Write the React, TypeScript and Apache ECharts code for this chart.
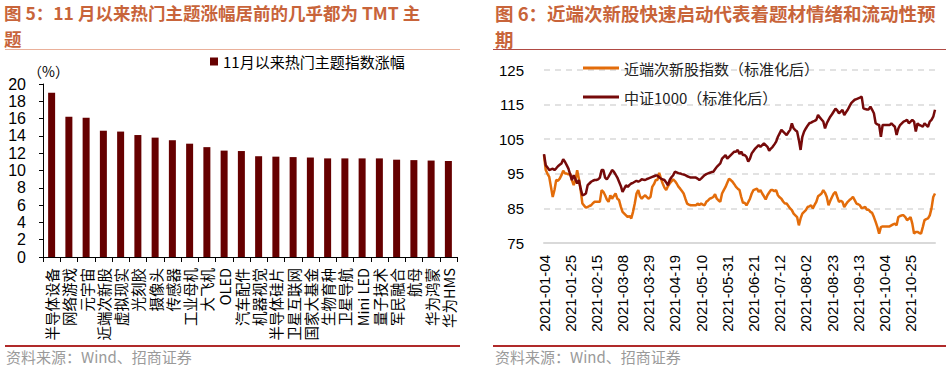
import React, { useEffect, useRef } from "react";
import * as echarts from "echarts";

const themeNames = [
  "半导体设备", "网络游戏", "元宇宙", "近端次新股", "虚拟现实", "光刻胶",
  "摄像头", "传感器", "工业母机", "大飞机", "OLED", "汽车配件",
  "机器视觉", "半导体硅片", "卫星互联网", "国家大基金", "生物育种", "卫星导航",
  "Mini LED", "量子技术", "军民融合", "航母", "华为鸿蒙", "华为HMS",
];
const themeGains = [
  19.0, 16.2, 16.1, 14.6, 14.5, 14.1, 13.8, 13.5, 13.1, 12.7, 12.3, 12.25,
  11.65, 11.6, 11.55, 11.5, 11.4, 11.4, 11.4, 11.4, 11.25, 11.2, 11.15, 11.1,
];

const startDate = "2021-01-04";
const dayCount = 225;

const subNewIndex = [
  100.4, 96.1, 95.0, 94.1, 91.2, 88.3, 90.3, 93.2, 93.0, 93.6,
  94.6, 95.9, 95.1, 95.1, 94.8, 95.1, 93.2, 91.7, 93.2, 96.0,
  93.5, 90.3, 86.4, 85.8, 85.2, 85.4, 85.7, 85.9, 86.5, 86.9,
  86.9, 86.9, 86.9, 90.3, 89.8, 88.8, 87.6, 86.9, 88.8, 87.8,
  88.6, 89.3, 87.8, 87.4, 85.5, 84.0, 83.5, 83.0, 82.5, 82.8,
  82.1, 84.0, 86.4, 89.3, 90.3, 88.5, 87.8, 88.4, 88.8, 88.2,
  87.8, 88.3, 91.2, 92.0, 93.2, 93.2, 95.3, 93.6, 92.2, 91.0,
  90.3, 91.4, 92.2, 92.8, 93.4, 92.9, 92.2, 91.3, 90.7, 90.0,
  89.3, 87.8, 86.4, 86.1, 85.9, 85.9, 85.9, 85.9, 86.4, 86.0,
  86.4, 86.1, 85.9, 86.9, 87.3, 87.8, 88.0, 88.3, 89.1, 87.8,
  87.3, 86.9, 89.3, 90.3, 91.2, 92.4, 93.6, 93.2, 92.7, 92.0,
  91.2, 90.7, 90.3, 88.3, 86.6, 86.6, 85.9, 86.8, 87.8, 89.3,
  90.3, 90.5, 90.7, 89.8, 90.3, 89.3, 88.5, 87.6, 88.8, 89.6,
  90.3, 90.3, 90.0, 90.3, 88.8, 88.2, 87.8, 87.0, 86.4, 86.4,
  85.7, 85.0, 84.5, 83.5, 83.0, 82.5, 80.1, 82.1, 83.5, 84.0,
  84.5, 85.4, 85.6, 85.9, 85.0, 86.0, 86.9, 88.5, 88.9, 89.3,
  90.3, 89.5, 88.3, 85.9, 87.2, 88.3, 89.3, 89.8, 88.3, 86.9,
  87.2, 86.9, 85.4, 86.2, 86.9, 87.4, 87.8, 88.3, 87.4, 86.4,
  86.2, 85.9, 85.0, 85.2, 85.4, 84.6, 84.6, 84.0, 83.7, 82.5,
  81.1, 79.6, 77.7, 79.6, 79.8, 79.8, 79.8, 79.8, 79.8, 80.1,
  80.4, 80.6, 80.1, 82.5, 82.8, 83.0, 83.0, 82.5, 81.6, 82.0,
  82.5, 80.6, 77.7, 78.2, 78.2, 77.9, 77.7, 79.6, 81.6, 81.9,
  82.1, 83.0, 85.0, 88.3, 89.3,
];

const csi1000 = [
  100.7, 97.5, 96.8, 96.1, 96.3, 96.5, 96.1, 96.6, 97.2, 97.6,
  98.0, 99.2, 98.5, 97.5, 96.5, 94.8, 93.2, 94.6, 93.4, 92.2,
  93.2, 90.7, 88.8, 89.0, 89.3, 91.7, 92.2, 92.7, 93.0, 93.2,
  93.2, 93.4, 93.9, 96.1, 96.1, 93.9, 93.4, 94.2, 95.1, 96.1,
  95.6, 94.8, 93.9, 92.7, 91.5, 89.8, 90.7, 91.7, 91.2, 91.8,
  92.2, 92.4, 92.7, 93.0, 92.7, 93.0, 93.4, 93.3, 93.2, 93.5,
  93.7, 93.9, 94.1, 94.3, 94.5, 94.5, 94.0, 93.6, 93.4, 93.2,
  92.5, 91.7, 93.2, 94.0, 94.6, 95.6, 95.4, 95.2, 95.1, 94.9,
  94.8, 94.6, 94.3, 94.1, 93.9, 93.9, 93.9, 93.9, 93.6, 93.2,
  93.6, 94.1, 94.6, 94.9, 95.1, 95.3, 95.5, 95.6, 96.3, 97.0,
  97.5, 98.0, 99.4, 99.9, 100.4, 99.4, 99.9, 100.4, 100.9, 101.4,
  101.4, 101.9, 100.7, 101.4, 100.4, 100.4, 99.9, 98.5, 99.4, 100.9,
  101.6, 102.3, 102.8, 103.3, 102.8, 103.3, 103.8, 103.3, 102.8, 101.7,
  102.3, 102.8, 103.5, 104.3, 105.7, 106.7, 107.7, 107.2, 106.7, 106.2,
  107.0, 107.7, 109.6, 108.1, 107.6, 107.2, 104.8, 101.9, 105.7, 107.2,
  108.1, 108.9, 109.6, 109.8, 110.1, 110.3, 110.6, 112.0, 111.3, 110.7,
  110.1, 108.1, 109.6, 110.6, 111.5, 112.2, 113.0, 113.8, 113.3, 112.5,
  113.0, 113.5, 112.0, 112.8, 113.5, 114.5, 115.4, 115.9, 116.4, 116.6,
  116.8, 117.0, 117.3, 113.9, 113.7, 113.6, 113.6, 114.4, 113.5, 112.5,
  109.6, 109.3, 109.1, 105.7, 109.1, 109.1, 109.1, 109.1, 109.1, 109.6,
  109.1, 108.6, 106.2, 108.1, 109.1, 109.6, 110.1, 110.3, 110.6, 109.6,
  110.1, 110.6, 110.1, 107.2, 109.6, 109.1, 108.9, 108.6, 109.6, 109.1,
  108.6, 110.1, 110.6, 111.5, 113.5,
];

const barLegend = "11月以来热门主题指数涨幅";
const lineLegend = ["近端次新股指数（标准化后）", "中证1000（标准化后）"];
const leftTitle = ["图 5：11 月以来热门主题涨幅居前的几乎都为 TMT 主", "题"];
const rightTitle = ["图 6：近端次新股快速启动代表着题材情绪和流动性预", "期"];
const sourceText = "资料来源：Wind、招商证券";

function weekdays(start: string, n: number): string[] {
  const out: string[] = [];
  const d = new Date(start + "T00:00:00Z");
  while (out.length < n) {
    const wd = d.getUTCDay();
    if (wd !== 0 && wd !== 6) out.push(d.toISOString().slice(0, 10));
    d.setUTCDate(d.getUTCDate() + 1);
  }
  return out;
}

const LATIN = "'Liberation Sans', Arial, 'Noto Sans CJK SC', sans-serif";
const CJK = "'Noto Sans CJK SC', 'Liberation Sans', sans-serif";
const TITLE_COLOR = "#C8643A";

export default function App() {
  const ref = useRef<HTMLDivElement>(null);
  useEffect(() => {
    if (!ref.current) return;
    const chart = echarts.init(ref.current, null, { renderer: "svg" });
    const dates = weekdays(startDate, dayCount);
    const titleStyle = (text: string, size: number) => ({
      text,
      fill: TITLE_COLOR,
      font: `bold ${size}px ${CJK}`,
    });
    chart.setOption({
      animation: false,
      backgroundColor: "#ffffff",
      grid: [
        { left: 43, top: 84, width: 414, height: 173 },
        { left: 544, top: 70, width: 391, height: 173 },
      ],
      legend: [
        {
          data: [barLegend],
          left: 205,
          top: 49,
          icon: "rect",
          itemWidth: 8,
          itemHeight: 8,
          itemGap: 4,
          textStyle: { fontSize: 15, color: "#000", fontFamily: CJK },
        },
        {
          data: lineLegend,
          orient: "vertical",
          left: 578,
          top: 54,
          icon: "rect",
          itemWidth: 36,
          itemHeight: 3,
          itemGap: 11,
          textStyle: { fontSize: 15, color: "#222", fontFamily: CJK, lineHeight: 18 },
        },
      ],
      xAxis: [
        {
          type: "category",
          gridIndex: 0,
          data: themeNames,
          axisLine: { lineStyle: { color: "#000", width: 1 } },
          axisTick: { show: true, length: 5, lineStyle: { color: "#000" } },
          axisLabel: {
            rotate: 90,
            interval: 0,
            fontSize: 14.5,
            color: "#000",
            margin: 11,
            fontFamily: CJK,
          },
        },
        {
          type: "category",
          gridIndex: 1,
          data: dates,
          boundaryGap: false,
          axisLine: { lineStyle: { color: "#D9D9D9", width: 2 } },
          axisTick: { show: false },
          axisLabel: {
            rotate: 90,
            interval: 14,
            fontSize: 15,
            color: "#000",
            margin: 12,
            fontFamily: LATIN,
          },
        },
      ],
      yAxis: [
        {
          type: "value",
          gridIndex: 0,
          min: 0,
          max: 20,
          interval: 2,
          axisLine: { show: true, lineStyle: { color: "#000" } },
          axisTick: { show: true, length: 4, lineStyle: { color: "#000" } },
          splitLine: { show: false },
          axisLabel: { fontSize: 16, color: "#000", margin: 17, fontFamily: LATIN },
        },
        {
          type: "value",
          gridIndex: 1,
          min: 75,
          max: 125,
          interval: 10,
          axisLine: { show: false },
          axisTick: { show: false },
          splitLine: {
            show: true,
            lineStyle: { color: "#D9D9D9", type: [6, 5], width: 1.5 },
          },
          axisLabel: { fontSize: 15, color: "#000", margin: 20, fontFamily: LATIN },
        },
      ],
      series: [
        {
          name: barLegend,
          type: "bar",
          xAxisIndex: 0,
          yAxisIndex: 0,
          data: themeGains,
          barWidth: 7,
          itemStyle: { color: "#660000" },
        },
        {
          name: lineLegend[0],
          type: "line",
          xAxisIndex: 1,
          yAxisIndex: 1,
          data: subNewIndex,
          symbol: "none",
          lineStyle: { color: "#E36C0A", width: 2.5 },
          itemStyle: { color: "#E36C0A" },
        },
        {
          name: lineLegend[1],
          type: "line",
          xAxisIndex: 1,
          yAxisIndex: 1,
          data: csi1000,
          symbol: "none",
          lineStyle: { color: "#760A0A", width: 2.5 },
          itemStyle: { color: "#760A0A" },
        },
      ],
      graphic: [
        { type: "text", left: 4, top: 4, style: titleStyle(leftTitle[0], 17.5) },
        { type: "text", left: 4, top: 30, style: titleStyle(leftTitle[1], 17.5) },
        { type: "text", left: 495, top: 4, style: titleStyle(rightTitle[0], 18.5) },
        { type: "text", left: 495, top: 30, style: titleStyle(rightTitle[1], 18.5) },
        {
          type: "line",
          shape: { x1: 5, y1: 49.5, x2: 460, y2: 49.5 },
          style: { stroke: "#EAB09A", lineWidth: 1 },
        },
        {
          type: "line",
          shape: { x1: 493, y1: 49.5, x2: 946, y2: 49.5 },
          style: { stroke: "#B04A44", lineWidth: 1.2 },
        },
        {
          type: "line",
          shape: { x1: 5, y1: 346, x2: 460, y2: 346 },
          style: { stroke: "#B02A2A", lineWidth: 2 },
        },
        {
          type: "line",
          shape: { x1: 493, y1: 346, x2: 946, y2: 346 },
          style: { stroke: "#B02A2A", lineWidth: 2 },
        },
        {
          type: "text",
          left: 6,
          top: 349,
          style: { text: sourceText, fill: "#9A9A9A", font: `15px ${CJK}` },
        },
        {
          type: "text",
          left: 495,
          top: 349,
          style: { text: sourceText, fill: "#9A9A9A", font: `15px ${CJK}` },
        },
        {
          type: "text",
          left: 28,
          top: 64,
          style: { text: "（%）", fill: "#000", font: `14px ${CJK}` },
        },
      ],
    });
    return () => chart.dispose();
  }, []);
  return (
    <div
      ref={ref}
      style={{ position: "absolute", left: 0, top: 0, width: 946, height: 372 }}
    />
  );
}
